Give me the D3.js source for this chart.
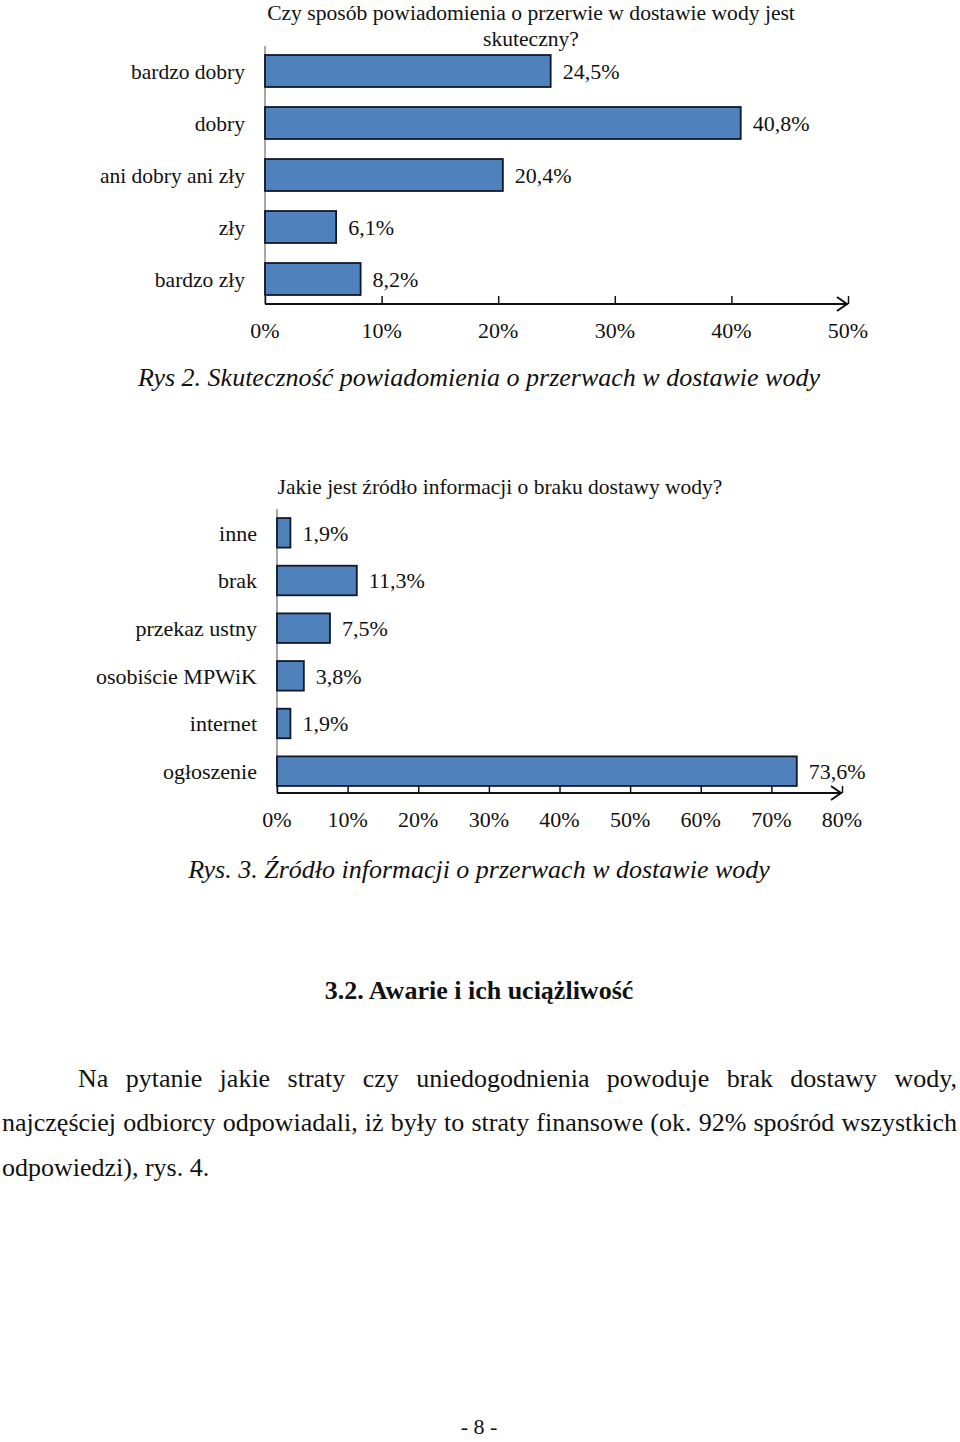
<!DOCTYPE html>
<html>
<head>
<meta charset="utf-8">
<script src="https://d3js.org/d3.v7.min.js"></script>
<style>
  body { margin: 0; background: #fff; }
  svg { display: block; }
  text { font-family: "Liberation Serif", "Times New Roman", serif; fill: #111; }
</style>
</head>
<body>
<svg id="page" width="960" height="1442"></svg>
<script>
// ---------- data ----------
const chart1Title = ["Czy sposób powiadomienia o przerwie w dostawie wody jest", "skuteczny?"];
const chart1Categories = ["bardzo dobry", "dobry", "ani dobry ani zły", "zły", "bardzo zły"];
const chart1Values = [24.5, 40.8, 20.4, 6.1, 8.2];
const chart1Ticks = [0, 10, 20, 30, 40, 50];
const chart1Caption = "Rys 2. Skuteczność powiadomienia o przerwach w dostawie wody";

const chart2Title = "Jakie jest źródło informacji o braku dostawy wody?";
const chart2Categories = ["inne", "brak", "przekaz ustny", "osobiście MPWiK", "internet", "ogłoszenie"];
const chart2Values = [1.9, 11.3, 7.5, 3.8, 1.9, 73.6];
const chart2Ticks = [0, 10, 20, 30, 40, 50, 60, 70, 80];
const chart2Caption = "Rys. 3. Źródło informacji o przerwach w dostawie wody";

const heading = "3.2. Awarie i ich uciążliwość";
const paragraphLines = [
  "Na pytanie jakie straty czy uniedogodnienia powoduje brak dostawy wody,",
  "najczęściej odbiorcy odpowiadali, iż były to straty finansowe (ok. 92% spośród wszystkich",
  "odpowiedzi), rys. 4."
];
const footer = "- 8 -";

// ---------- helpers ----------
const plLocale = d3.formatLocale({decimal: ",", thousands: " ", grouping: [3], currency: ["", " zł"]});
const fmtVal = v => plLocale.format(".1f")(v) + "%";
const fmtTick = v => v + "%";

const svg = d3.select("#page");

function drawChart(cfg) {
  const g = svg.append("g");
  const x = d3.scaleLinear().domain([0, cfg.max]).range([cfg.x0, cfg.x1]);
  const y = d3.scaleBand().domain(cfg.categories).range([cfg.yTop, cfg.yBottom]).paddingInner(cfg.pad).paddingOuter(cfg.pad / 2);

  // title
  cfg.title.forEach((t, i) => {
    g.append("text").attr("x", cfg.titleX).attr("y", cfg.titleY + i * cfg.titleLH)
      .attr("text-anchor", "middle").attr("font-size", cfg.titleSize).text(t);
  });

  // vertical axis
  g.append("line").attr("x1", x(0)).attr("x2", x(0)).attr("y1", cfg.vTop).attr("y2", cfg.axisY)
    .attr("stroke", "#8a8a8a").attr("stroke-width", 1.5);

  // bars
  g.selectAll("rect.bar").data(cfg.values).join("rect")
    .attr("class", "bar")
    .attr("x", x(0))
    .attr("y", (d, i) => y(cfg.categories[i]))
    .attr("width", d => x(d) - x(0))
    .attr("height", y.bandwidth())
    .attr("fill", "#4f81bd")
    .attr("stroke", "#111827")
    .attr("stroke-width", 1.8);

  // category labels
  g.selectAll("text.cat").data(cfg.categories).join("text")
    .attr("class", "cat")
    .attr("x", cfg.catX)
    .attr("y", d => y(d) + y.bandwidth() / 2)
    .attr("dy", "0.35em")
    .attr("text-anchor", "end")
    .attr("font-size", cfg.catSize)
    .text(d => d);

  // value labels
  g.selectAll("text.val").data(cfg.values).join("text")
    .attr("class", "val")
    .attr("x", d => x(d) + cfg.valOffset)
    .attr("y", (d, i) => y(cfg.categories[i]) + y.bandwidth() / 2)
    .attr("dy", "0.35em")
    .attr("font-size", cfg.valSize)
    .text(d => fmtVal(d));

  // horizontal axis with ticks pointing up
  const axis = d3.axisTop(x).tickValues(cfg.ticks).tickSize(cfg.tickLen).tickFormat("").tickSizeOuter(0);
  const ag = g.append("g").attr("transform", `translate(0,${cfg.axisY})`).call(axis);
  ag.select(".domain").remove();
  ag.selectAll("line").attr("stroke", "#111").attr("stroke-width", 1.5);
  g.append("line").attr("x1", x(0)).attr("x2", x(cfg.max)).attr("y1", cfg.axisY).attr("y2", cfg.axisY)
    .attr("stroke", "#111").attr("stroke-width", 1.8);
  // arrow head
  const tipX = x(cfg.max) - 1;
  g.append("path")
    .attr("d", `M${tipX - 10},${cfg.axisY - 7} L${tipX},${cfg.axisY} L${tipX - 10},${cfg.axisY + 7}`)
    .attr("fill", "none").attr("stroke", "#111").attr("stroke-width", 2);

  // tick labels
  g.selectAll("text.tick").data(cfg.ticks).join("text")
    .attr("class", "tick")
    .attr("x", d => x(d))
    .attr("y", cfg.tickLabelY)
    .attr("text-anchor", "middle")
    .attr("font-size", cfg.tickSize)
    .text(d => fmtTick(d));

  // caption
  g.append("text").attr("x", cfg.captionX).attr("y", cfg.captionY)
    .attr("text-anchor", "middle").attr("font-size", 26).attr("font-style", "italic")
    .text(cfg.caption);
}

drawChart({
  title: chart1Title, titleX: 531, titleY: 20, titleLH: 26, titleSize: 21.6,
  categories: chart1Categories, values: chart1Values, ticks: chart1Ticks, max: 50,
  x0: 265, x1: 848, yTop: 45, yBottom: 305, pad: 0.385,
  vTop: 46, axisY: 304, tickLen: 8,
  catX: 245, catSize: 21.5, valSize: 22, valOffset: 12,
  tickLabelY: 338, tickSize: 22,
  caption: chart1Caption, captionX: 479, captionY: 386
});

drawChart({
  title: [chart2Title], titleX: 500, titleY: 494, titleLH: 26, titleSize: 21.5,
  categories: chart2Categories, values: chart2Values, ticks: chart2Ticks, max: 80,
  x0: 277, x1: 842, yTop: 509, yBottom: 795, pad: 0.38,
  vTop: 509, axisY: 793, tickLen: 7,
  catX: 257, catSize: 22, valSize: 22, valOffset: 12,
  tickLabelY: 827, tickSize: 22,
  caption: chart2Caption, captionX: 479, captionY: 878
});

// heading
svg.append("text").attr("x", 479).attr("y", 999).attr("text-anchor", "middle")
  .attr("font-size", 26).attr("font-weight", "bold").text(heading);

// paragraph (justified lines)
const lineSpecs = [
  {x: 78, y: 1087, w: 879, justify: true},
  {x: 2, y: 1131, w: 955, justify: true},
  {x: 2, y: 1176, w: 0, justify: false}
];
paragraphLines.forEach((t, i) => {
  const s = lineSpecs[i];
  const el = svg.append("text").attr("x", s.x).attr("y", s.y).attr("font-size", 26).text(t);
  if (s.justify) {
    const natural = el.node().getComputedTextLength();
    const spaces = (t.match(/ /g) || []).length;
    if (spaces > 0) el.attr("word-spacing", (s.w - natural) / spaces);
  }
});

svg.append("text").attr("x", 479).attr("y", 1434).attr("text-anchor", "middle")
  .attr("font-size", 22).text(footer);
</script>
</body>
</html>
